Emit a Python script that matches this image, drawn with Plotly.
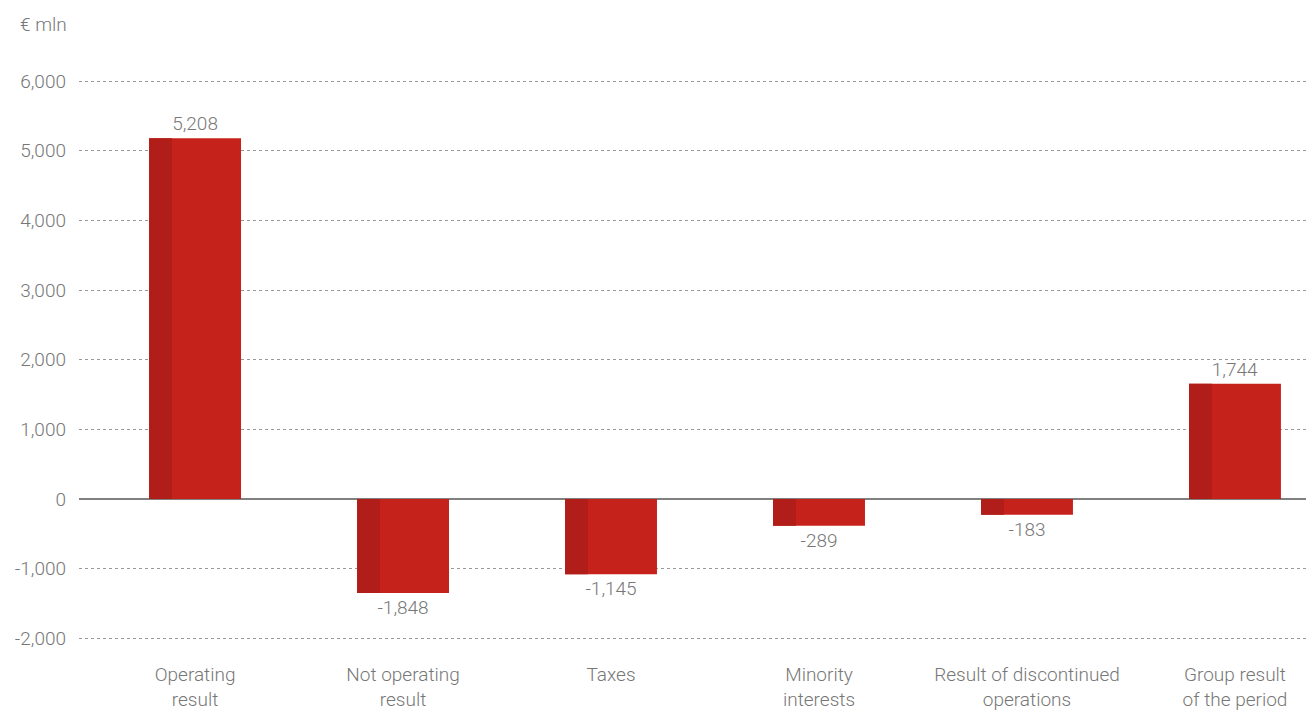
import plotly.graph_objects as go

# categorie e valori (altezza barre, etichette come stampate)
categorie = ["Operating<br>result", "Not operating<br>result", "Taxes",
             "Minority<br>interests", "Result of discontinued<br>operations",
             "Group result<br>of the period"]
valori_barre = [5180, -1348, -1080, -384, -226, 1655]
etichette = ["5,208", "-1,848", "-1,145", "-289", "-183", "1,744"]
tick_y = [-2000, -1000, 0, 1000, 2000, 3000, 4000, 5000, 6000]
tick_y_testo = ["-2,000", "-1,000", "0", "1,000", "2,000", "3,000", "4,000", "5,000", "6,000"]

FONT = "Roboto, sans-serif"
PESO = 300
GRIGIO = "#777777"
ROSSO = "#c5221c"
ROSSO_SCURO = "#b11e19"

pos = list(range(len(categorie)))
larghezza = 0.442
striscia = 0.11

fig = go.Figure()
fig.add_trace(go.Bar(
    x=pos, y=valori_barre, width=larghezza, offset=-larghezza / 2,
    marker=dict(color=ROSSO, line=dict(width=0)),
    text=etichette, textposition="outside", cliponaxis=False,
    textfont=dict(family=FONT, size=19, color=GRIGIO, weight=PESO),
    hoverinfo="skip",
))
fig.add_trace(go.Bar(
    x=pos, y=valori_barre, width=striscia, offset=-larghezza / 2,
    marker=dict(color=ROSSO_SCURO, line=dict(width=0)),
    hoverinfo="skip",
))

fig.update_layout(
    width=1306, height=703,
    margin=dict(l=71, r=0, t=32, b=51),
    paper_bgcolor="white", plot_bgcolor="white",
    barmode="overlay", showlegend=False,
    font=dict(family=FONT, size=19, color=GRIGIO, weight=PESO),
    xaxis=dict(
        range=[-0.558, 5.38], tickvals=pos, ticktext=categorie,
        showgrid=False, zeroline=False, showline=False,
        ticks="outside", ticklen=3, tickcolor="rgba(0,0,0,0)",
        tickfont=dict(family=FONT, size=19, color=GRIGIO, weight=PESO),
    ),
    yaxis=dict(
        range=[-2225, 6590], tickvals=tick_y, ticktext=tick_y_testo,
        showgrid=True, gridcolor="#9a9a9a", griddash="dot", gridwidth=1,
        zeroline=True, zerolinecolor="#808080", zerolinewidth=1.5,
        showline=False, ticks="", ticklabelstandoff=12,
        tickfont=dict(family=FONT, size=19, color=GRIGIO, weight=PESO),
    ),
    annotations=[dict(
        text="€ mln", xref="paper", yref="paper", x=-0.012, y=1.0,
        xanchor="right", yanchor="bottom", xshift=5, yshift=2, showarrow=False,
        font=dict(family=FONT, size=19, color=GRIGIO, weight=PESO),
    )],
)

fig.write_html("out.html")
